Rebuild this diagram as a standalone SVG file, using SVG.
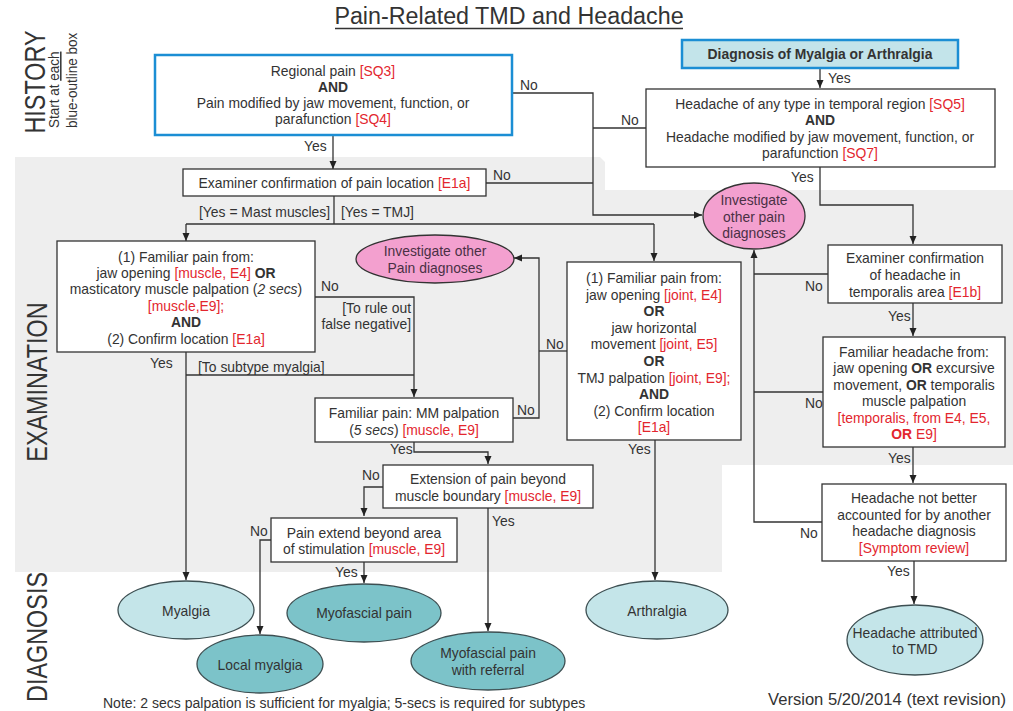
<svg xmlns="http://www.w3.org/2000/svg" width="1013" height="711" viewBox="0 0 1013 711">
<style>
text{font-family:"Liberation Sans",Arial,sans-serif;font-size:13.9px;fill:#333}
.c{text-anchor:middle}
.r{fill:#e3262e}
.b{font-weight:bold}
.i{font-style:italic}
.box{fill:#fff;stroke:#333;stroke-width:1.3}
.bbox{fill:#fff;stroke:#1b8ed4;stroke-width:2.5}
.ln{fill:none;stroke:#333;stroke-width:1.3}
.ar{marker-end:url(#ah)}
.pk{fill:#f3a0cf;stroke:#333;stroke-width:1.3}
.pkt{fill:#4a3045;text-anchor:middle}
.lt{fill:#c4e5e9;stroke:#3d4f52;stroke-width:1.3}
.dk{fill:#7cc3c9;stroke:#3d4f52;stroke-width:1.3}
.big{font-size:30px}
</style>
<defs>
<marker id="ah" markerWidth="8" markerHeight="8" refX="8" refY="4" orient="auto" markerUnits="userSpaceOnUse">
<path d="M0,0.5 L8,4 L0,7.5 z" fill="#222"/>
</marker>
</defs>
<rect width="1013" height="711" fill="#fff"/>
<polygon points="15,157 600,157 605,162 605,190 1013,190 1013,465 722,465 722,572 15,572" fill="#eeeeee"/>
<g id="title">
<text x="509" y="24" class="c" style="font-size:23.3px">Pain-Related TMD and Headache</text>
<line x1="335" y1="28.5" x2="683" y2="28.5" stroke="#333" stroke-width="1.3"/>
</g>
<g id="section-labels">
<text class="big c" transform="translate(45,82) rotate(-90) scale(0.78,1)">HISTORY</text>
<text style="font-size:15px" transform="translate(59,128) rotate(-90) scale(0.9,1)">Start at <tspan text-decoration="underline">each</tspan></text>
<text style="font-size:15px" transform="translate(77,128) rotate(-90) scale(0.9,1)">blue-outline box</text>
<text class="big c" transform="translate(47,382) rotate(-90) scale(0.78,1)">EXAMINATION</text>
<text class="big c" transform="translate(47,637) rotate(-90) scale(0.78,1)">DIAGNOSIS</text>
</g>
<g id="connectors">
<path class="ln ar" d="M333,135 V169"/>
<path class="ln ar" d="M512,93 H593 V215 H702"/>
<path class="ln" d="M486,183 H593"/>
<path class="ln" d="M646,128 H593"/>
<path class="ln ar" d="M820,68 V88"/>
<path class="ln" d="M334,196 V224"/>
<path class="ln" d="M186,224 H654"/>
<path class="ln ar" d="M186,224 V241"/>
<path class="ln ar" d="M654,224 V261"/>
<path class="ln ar" d="M315,297 H414 V397"/>
<path class="ln ar" d="M186,352 V580"/>
<path class="ln" d="M186,375 H414"/>
<path class="ln ar" d="M513,418 H539 V258 H514"/>
<path class="ln" d="M567,351 H539"/>
<path class="ln ar" d="M414,442 V452 H488 V464"/>
<path class="ln ar" d="M383,487 H364 V516"/>
<path class="ln ar" d="M488,508 V631"/>
<path class="ln ar" d="M271,540 H260 V634"/>
<path class="ln ar" d="M364,562 V583"/>
<path class="ln ar" d="M655,440 V580"/>
<path class="ln ar" d="M820,167 V205 H913 V244"/>
<path class="ln" d="M828,274 H754"/>
<path class="ln" d="M823,392 H754"/>
<path class="ln ar" d="M822,522 H754 V250"/>
<path class="ln ar" d="M913,303 V336"/>
<path class="ln ar" d="M913,447 V483"/>
<path class="ln ar" d="M914,561 V604"/>
</g>
<g id="connector-labels">
<text x="520" y="89.5">No</text>
<text x="304" y="150.5">Yes</text>
<text x="621" y="125">No</text>
<text x="493" y="180">No</text>
<text x="828" y="83">Yes</text>
<text x="791" y="182">Yes</text>
<text x="199" y="217">[Yes = Mast muscles]</text>
<text x="341" y="217">[Yes = TMJ]</text>
<text x="321" y="291">No</text>
<text x="411" y="313" text-anchor="end">[To rule out</text>
<text x="411" y="329" text-anchor="end">false negative]</text>
<text x="150" y="368">Yes</text>
<text x="198" y="371.5">[To subtype myalgia]</text>
<text x="517" y="415">No</text>
<text x="546" y="348.5">No</text>
<text x="628" y="454">Yes</text>
<text x="805" y="291">No</text>
<text x="888" y="321">Yes</text>
<text x="805" y="408">No</text>
<text x="888" y="463">Yes</text>
<text x="800" y="538">No</text>
<text x="887" y="576">Yes</text>
<text x="390" y="454">Yes</text>
<text x="362" y="480">No</text>
<text x="492" y="526">Yes</text>
<text x="250" y="536">No</text>
<text x="335" y="577">Yes</text>
</g>
<g id="regional-pain">
<rect class="bbox" x="155" y="55" width="357" height="80"/>
<text class="c" x="333" y="76">Regional pain <tspan class="r">[SQ3]</tspan></text>
<text class="c b" x="333" y="92">AND</text>
<text class="c" x="333" y="108">Pain modified by jaw movement, function, or</text>
<text class="c" x="333" y="124">parafunction  <tspan class="r">[SQ4]</tspan></text>
</g>
<g id="diag-myalgia-arthralgia">
<rect x="682" y="40" width="276" height="28" fill="#c3e4ea" stroke="#1b8ed4" stroke-width="2.5"/>
<text class="c b" x="820" y="59">Diagnosis of Myalgia or Arthralgia</text>
</g>
<g id="headache-history">
<rect class="box" x="646" y="89" width="349" height="78"/>
<text class="c" x="820" y="108.5">Headache of any type in temporal region <tspan class="r">[SQ5]</tspan></text>
<text class="c b" x="820" y="125">AND</text>
<text class="c" x="820" y="141.5">Headache modified by jaw movement, function, or</text>
<text class="c" x="820" y="158">parafunction <tspan class="r">[SQ7]</tspan></text>
</g>
<g id="examiner-confirmation">
<rect class="box" x="183" y="169" width="303" height="27"/>
<text class="c" x="334.5" y="188">Examiner confirmation of pain location <tspan class="r">[E1a]</tspan></text>
</g>
<g id="familiar-muscle">
<rect class="box" x="57" y="241" width="258" height="111"/>
<text class="c" x="186" y="262">(1) Familiar pain from:</text>
<text class="c" x="186" y="278">jaw opening <tspan class="r">[muscle, E4]</tspan> <tspan class="b">OR</tspan></text>
<text class="c" x="186" y="294">masticatory muscle palpation (<tspan class="i">2 secs</tspan>)</text>
<text class="c r" x="186" y="311">[muscle,E9];</text>
<text class="c b" x="186" y="327">AND</text>
<text class="c" x="186" y="344">(2) Confirm location <tspan class="r">[E1a]</tspan></text>
</g>
<g id="investigate-2">
<ellipse class="pk" cx="435" cy="259" rx="79" ry="24"/>
<text class="pkt" x="435" y="256">Investigate other</text>
<text class="pkt" x="435" y="272.5">Pain diagnoses</text>
</g>
<g id="investigate-1">
<ellipse class="pk" cx="754" cy="216" rx="51" ry="33"/>
<text class="pkt" x="754" y="205">Investigate</text>
<text class="pkt" x="754" y="221.5">other pain</text>
<text class="pkt" x="754" y="238">diagnoses</text>
</g>
<g id="mm-palpation">
<rect class="box" x="315" y="398" width="198" height="44"/>
<text class="c" x="414" y="417.5">Familiar pain:  MM palpation</text>
<text class="c" x="414" y="434.5">(<tspan class="i">5 secs</tspan>) <tspan class="r">[muscle, E9]</tspan></text>
</g>
<g id="familiar-joint">
<rect class="box" x="567" y="262" width="174" height="178"/>
<text class="c" x="654" y="283">(1) Familiar pain from:</text>
<text class="c" x="654" y="299.6">jaw opening <tspan class="r">[joint, E4]</tspan></text>
<text class="c b" x="654" y="316.2">OR</text>
<text class="c" x="654" y="332.8">jaw horizontal</text>
<text class="c" x="654" y="349.4">movement  <tspan class="r">[joint, E5]</tspan></text>
<text class="c b" x="654" y="366">OR</text>
<text class="c" x="654" y="382.6">TMJ palpation <tspan class="r">[joint, E9];</tspan></text>
<text class="c b" x="654" y="399.2">AND</text>
<text class="c" x="654" y="415.8">(2) Confirm location</text>
<text class="c r" x="654" y="432.4">[E1a]</text>
</g>
<g id="examiner-headache">
<rect class="box" x="828" y="245" width="174" height="58"/>
<text class="c" x="915" y="263">Examiner confirmation</text>
<text class="c" x="915" y="280">of headache in</text>
<text class="c" x="915" y="297">temporalis area <tspan class="r">[E1b]</tspan></text>
</g>
<g id="familiar-headache">
<rect class="box" x="823" y="337" width="182" height="110"/>
<text class="c" x="914" y="357">Familiar headache from:</text>
<text class="c" x="914" y="373.4">jaw opening <tspan class="b">OR</tspan> excursive</text>
<text class="c" x="914" y="389.8">movement, <tspan class="b">OR</tspan> temporalis</text>
<text class="c" x="914" y="406.2">muscle palpation</text>
<text class="c r" x="914" y="422.6">[temporalis, from E4, E5,</text>
<text class="c r" x="914" y="439"><tspan class="b">OR</tspan> E9]</text>
</g>
<g id="headache-not-better">
<rect class="box" x="822" y="484" width="184" height="77"/>
<text class="c" x="914" y="503">Headache not better</text>
<text class="c" x="914" y="520">accounted for by another</text>
<text class="c" x="914" y="536">headache diagnosis</text>
<text class="c r" x="914" y="553">[Symptom review]</text>
</g>
<g id="extension-pain">
<rect class="box" x="383" y="465" width="210" height="43"/>
<text class="c" x="488" y="484">Extension of pain beyond</text>
<text class="c" x="488" y="501">muscle boundary <tspan class="r">[muscle, E9]</tspan></text>
</g>
<g id="pain-extend">
<rect class="box" x="271" y="518" width="186" height="44"/>
<text class="c" x="364" y="538">Pain extend beyond area</text>
<text class="c" x="364" y="554">of stimulation <tspan class="r">[muscle, E9]</tspan></text>
</g>
<g id="myalgia">
<ellipse class="lt" cx="186" cy="610" rx="68" ry="29"/>
<text class="c" x="186" y="615.5">Myalgia</text>
</g>
<g id="arthralgia">
<ellipse class="lt" cx="657" cy="610" rx="71" ry="29"/>
<text class="c" x="657" y="615.5">Arthralgia</text>
</g>
<g id="myofascial-pain">
<ellipse class="dk" cx="364" cy="613" rx="77" ry="29"/>
<text class="c" x="364" y="618">Myofascial pain</text>
</g>
<g id="local-myalgia">
<ellipse class="dk" cx="260" cy="664" rx="63" ry="29"/>
<text class="c" x="260" y="669.5">Local myalgia</text>
</g>
<g id="myofascial-referral">
<ellipse class="dk" cx="488" cy="661" rx="77" ry="29"/>
<text class="c" x="488" y="658">Myofascial pain</text>
<text class="c" x="488" y="675">with referral</text>
</g>
<g id="headache-tmd">
<ellipse class="lt" cx="915" cy="640" rx="68" ry="35"/>
<text class="c" x="915" y="638">Headache attributed</text>
<text class="c" x="915" y="654">to TMD</text>
</g>
<g id="notes">
<text x="103" y="708" style="font-size:14px">Note: 2 secs palpation is sufficient for myalgia; 5-secs is required for subtypes</text>
<text x="768" y="705" style="font-size:16.6px">Version 5/20/2014 (text revision)</text>
</g>
</svg>
